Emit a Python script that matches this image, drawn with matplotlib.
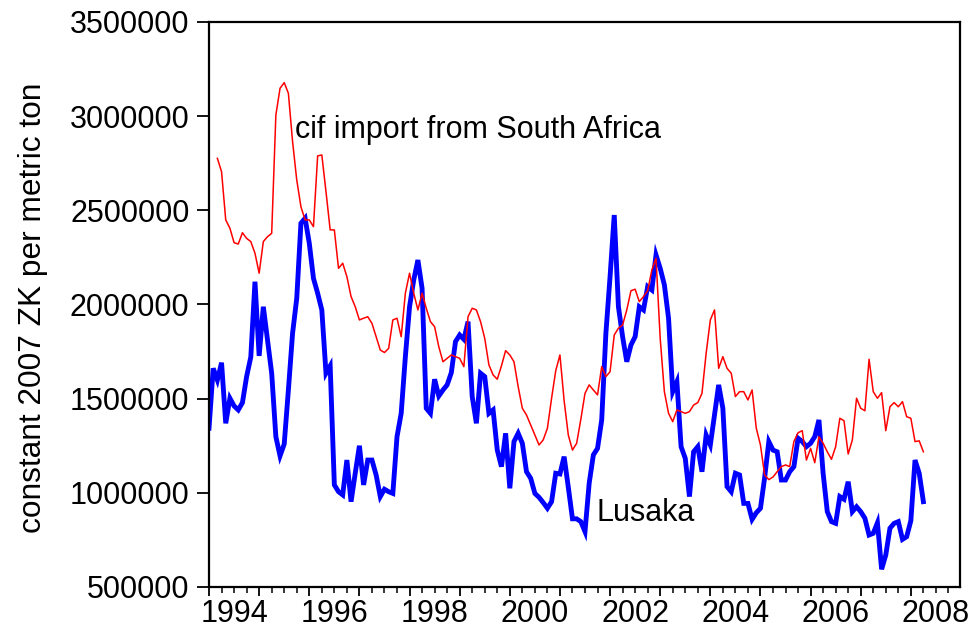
import numpy as np
import matplotlib.pyplot as plt
import matplotlib.transforms as mtransforms
from matplotlib.ticker import MultipleLocator, NullFormatter

plt.rcParams['font.family'] = ['Liberation Sans', 'DejaVu Sans']

# ----------------------------
# Data: monthly prices, 1994M1 - 2008M4 (constant 2007 ZK per metric ton)
# ----------------------------
START_YEAR = 1994

lusaka = [
    1343000, 1661000, 1599000, 1691000, 1369000, 1502000, 1461000, 1440000, 1479000, 1617000, 1721000, 2121000,
    1727000, 1988000, 1812000, 1635000, 1298000, 1196000, 1259000, 1546000, 1847000, 2033000, 2431000, 2458000,
    2325000, 2139000, 2060000, 1971000, 1635000, 1674000, 1042000, 1006000, 989000, 1174000, 953000, 1104000,
    1250000, 1042000, 1174000, 1174000, 1095000, 980000, 1019000, 1006000, 997000, 1298000, 1422000, 1723000,
    1988000, 2130000, 2236000, 2086000, 1449000, 1422000, 1603000, 1514000, 1546000, 1573000, 1638000, 1803000,
    1838000, 1815000, 1909000, 1511000, 1369000, 1635000, 1617000, 1422000, 1440000, 1227000, 1139000, 1316000,
    1024000, 1272000, 1316000, 1263000, 1112000, 1077000, 997000, 976000, 948000, 918000, 953000, 1104000,
    1100000, 1192000, 1030000, 862000, 862000, 847000, 794000, 1051000, 1201000, 1236000, 1387000, 1847000,
    2148000, 2475000, 1988000, 1829000, 1696000, 1785000, 1829000, 1988000, 1971000, 2095000, 2077000, 2263000,
    2192000, 2104000, 1927000, 1537000, 1590000, 1245000, 1183000, 980000, 1218000, 1245000, 1112000, 1307000,
    1254000, 1413000, 1573000, 1449000, 1033000, 1006000, 1104000, 1095000, 944000, 944000, 859000, 894000,
    918000, 1080000, 1272000, 1227000, 1218000, 1068000, 1068000, 1112000, 1139000, 1290000, 1272000, 1245000,
    1263000, 1298000, 1387000, 1104000, 900000, 847000, 838000, 980000, 966000, 1059000, 900000, 926000,
    900000, 865000, 776000, 785000, 841000, 594000, 670000, 812000, 838000, 847000, 753000, 767000,
    852000, 1174000, 1104000, 953000,
]

# cif import parity from South Africa, first value is 1994M3
CIF_START_MONTH = 2
cif_import = [
    2776000, 2705000, 2449000, 2405000, 2328000, 2321000, 2381000, 2351000, 2334000, 2272000,
    2166000, 2334000, 2360000, 2378000, 3006000, 3148000, 3178000, 3121000, 2865000, 2661000, 2519000, 2449000,
    2449000, 2413000, 2789000, 2794000, 2599000, 2396000, 2396000, 2192000, 2219000, 2148000, 2042000, 1988000,
    1918000, 1927000, 1935000, 1900000, 1829000, 1758000, 1745000, 1767000, 1918000, 1927000, 1829000, 2060000,
    2166000, 2060000, 1971000, 2060000, 1980000, 1909000, 1882000, 1776000, 1696000, 1714000, 1732000, 1723000,
    1714000, 1670000, 1935000, 1980000, 1971000, 1909000, 1820000, 1679000, 1626000, 1603000, 1674000, 1755000,
    1732000, 1696000, 1564000, 1449000, 1413000, 1360000, 1307000, 1254000, 1281000, 1343000, 1502000, 1649000,
    1732000, 1490000, 1307000, 1227000, 1263000, 1390000, 1528000, 1573000, 1546000, 1520000, 1670000, 1617000,
    1643000, 1838000, 1874000, 1891000, 1971000, 2073000, 2081000, 2015000, 2042000, 2073000, 2183000, 2245000,
    1820000, 1537000, 1422000, 1378000, 1440000, 1431000, 1422000, 1431000, 1466000, 1479000, 1528000, 1741000,
    1918000, 1971000, 1661000, 1723000, 1661000, 1635000, 1511000, 1537000, 1537000, 1493000, 1546000, 1343000,
    1254000, 1095000, 1070000, 1084000, 1112000, 1139000, 1148000, 1139000, 1272000, 1319000, 1330000, 1174000,
    1236000, 1160000, 1298000, 1263000, 1218000, 1178000, 1245000, 1396000, 1383000, 1206000, 1281000, 1502000,
    1449000, 1436000, 1709000, 1537000, 1502000, 1532000, 1330000, 1457000, 1479000, 1457000, 1484000, 1404000,
    1396000, 1272000, 1276000, 1218000,
]

year_labels = ["1994", "1996", "1998", "2000", "2002", "2004", "2006", "2008"]

# time axis in fractional years
t_lusaka = START_YEAR + np.arange(len(lusaka)) / 12
t_cif = START_YEAR + (CIF_START_MONTH + np.arange(len(cif_import))) / 12

# ----------------------------
# Plot
# ----------------------------
FS = 22

fig = plt.figure(figsize=(9.74, 6.35), dpi=100)
ax = fig.add_axes([0.2146, 0.0756, 0.7710, 0.8898])

ax.plot(t_lusaka, lusaka, color="#0000ff", lw=3.5, solid_joinstyle="miter")
ax.plot(t_cif, cif_import, color="#ff0000", lw=1.1)

ax.text(1995.72, 2927000, "cif import from South Africa", fontsize=FS, ha="left", va="center")
ax.text(2001.72, 895000, "Lusaka", fontsize=FS, ha="left", va="center")

ax.set_xlim(1994, 2008.98)
ax.set_ylim(500000, 3500000)

ax.set_yticks(np.arange(500000, 3500001, 500000))
ax.set_yticklabels([f"{v:d}" for v in range(500000, 3500001, 500000)])
ax.tick_params(axis="y", direction="out", length=9, width=1.3, pad=5, labelsize=FS)

ax.xaxis.set_major_locator(MultipleLocator(1))
ax.xaxis.set_minor_locator(MultipleLocator(0.25))
ax.xaxis.set_major_formatter(NullFormatter())
ax.tick_params(axis="x", which="major", direction="out", length=6.5, width=1.3)
ax.tick_params(axis="x", which="minor", direction="out", length=4.3, width=1.1)

# year labels centred on the middle of each labelled year
trans = mtransforms.blended_transform_factory(ax.transData, ax.transAxes)
for lab in year_labels:
    ax.text(int(lab) + 0.5, -0.021, lab, transform=trans, ha="center", va="top", fontsize=FS)

ax.set_ylabel("constant 2007 ZK per metric ton", fontsize=22.8)
ax.yaxis.set_label_coords(-0.2146, 0.494)

for sp in ax.spines.values():
    sp.set_linewidth(1.6)

fig.savefig("out.png", dpi=100)
